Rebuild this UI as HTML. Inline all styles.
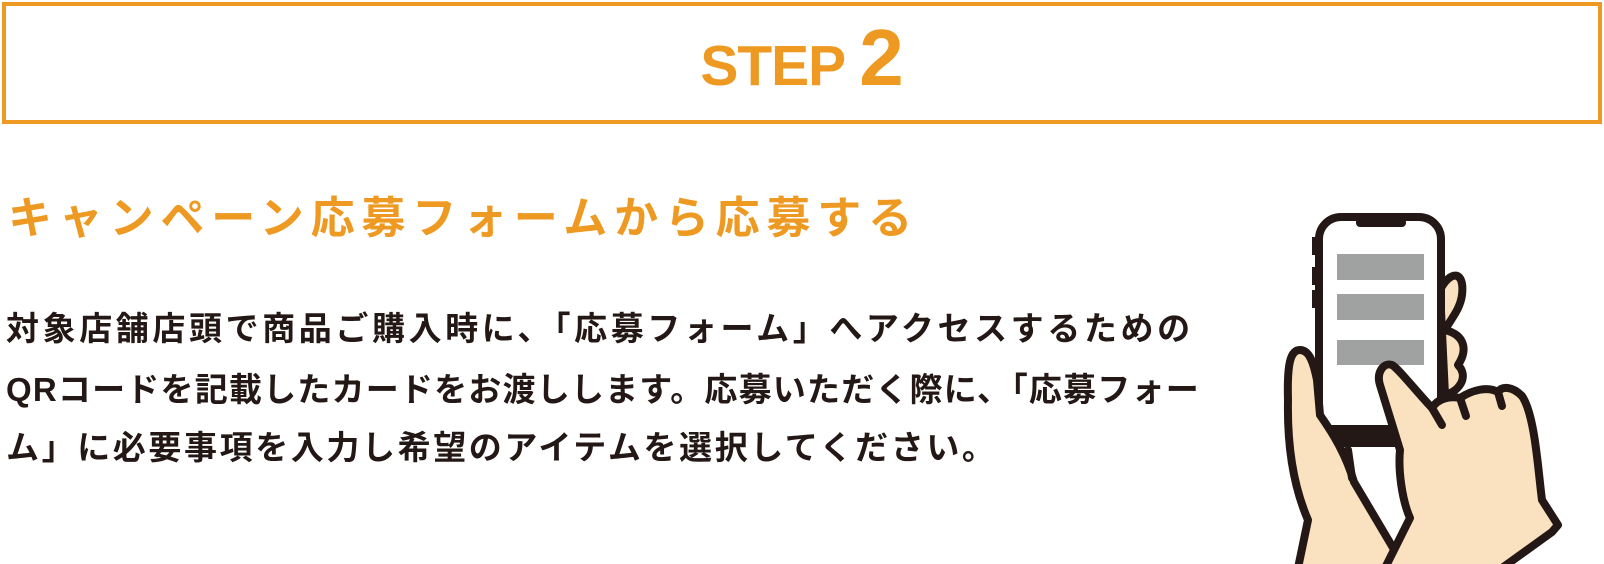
<!DOCTYPE html>
<html><head><meta charset="utf-8"><style>
html,body{margin:0;padding:0;background:#fff;}
body{width:1604px;height:564px;position:relative;overflow:hidden;font-family:"Liberation Sans","Noto Sans CJK JP",sans-serif;}
.box{position:absolute;left:2px;top:2px;height:114px;border:4px solid #ee9a22;width:1592px;}
.step{position:absolute;left:0;width:1604px;top:12px;text-align:center;color:#ee9a22;font-family:"Liberation Sans",sans-serif;white-space:nowrap;font-weight:bold;}
.step .s{font-size:57px;letter-spacing:-1px;}
.step .n{font-size:80px;margin-left:14px;}
.h{position:absolute;left:8px;top:182px;font-size:44px;font-weight:bold;color:#ee9a22;letter-spacing:6.8px;white-space:nowrap;}
.t{position:absolute;left:6px;font-size:33px;color:#231815;letter-spacing:2.6px;white-space:nowrap;font-weight:bold;}
</style></head><body>
<div class="box"></div>
<div class="step"><span class="s">STEP</span><span class="n">2</span></div>
<div class="h">キャンペーン応募フォームから応募する</div>
<div class="t" style="top:302px;letter-spacing:3.6px">対象店舗店頭で商品ご購入時に、「応募フォーム」へアクセスするための</div>
<div class="t" style="top:363px;letter-spacing:1.2px">QRコードを記載したカードをお渡しします。応募いただく際に、「応募フォー</div>
<div class="t" style="top:421px">ム」に必要事項を入力し希望のアイテムを選択してください。</div>
<svg style="position:absolute;left:1240px;top:200px" width="364" height="364" viewBox="0 0 364 364">
<g stroke="#231815" stroke-width="8" stroke-linejoin="round" stroke-linecap="round" fill="#fae1bf">
<path d="M200,90 C210,70 225,70 222,95 C220,110 210,120 205,130 C225,135 228,150 218,165 C228,175 222,190 205,195 Z"/>
<rect x="72" y="37" width="6" height="18" fill="#231815" stroke="none"/>
<rect x="72" y="67" width="6" height="18" fill="#231815" stroke="none"/>
<rect x="72" y="90" width="6" height="18" fill="#231815" stroke="none"/>
<rect x="79" y="17" width="122" height="226" rx="22" fill="#fff"/>
<rect x="79" y="225" width="122" height="18" fill="#231815" stroke="none"/>
<rect x="116" y="18" width="50" height="9" rx="4" fill="#231815" stroke="none"/>
<rect x="97" y="54" width="87" height="26" fill="#a0a2a1" stroke="none"/>
<rect x="97" y="94" width="87" height="26" fill="#a0a2a1" stroke="none"/>
<rect x="97" y="140" width="87" height="25" fill="#a0a2a1" stroke="none"/>
<path d="M58,368 L68,320 C55,290 47,250 48,200 C47,165 50,150 60,150 C70,150 74,165 77,180 L80,215 C94,235 106,255 114,282 L165,368 Z"/>
<path d="M108,250 L112,278" fill="none"/>
<path d="M145,368 L170,318 C162,300 158,270 160,250 L140,185 C136,172 144,162 152,165 C158,168 175,190 192,208 C198,198 210,196 220,198 C232,190 248,186 258,192 C262,186 272,186 282,196 C295,215 298,270 302,300 L318,325 L312,332 L262,368 Z"/>
<path d="M192,208 L202,225 M220,198 L226,216 M258,192 L262,206" fill="none"/>
</g>
</svg>
</body></html>
